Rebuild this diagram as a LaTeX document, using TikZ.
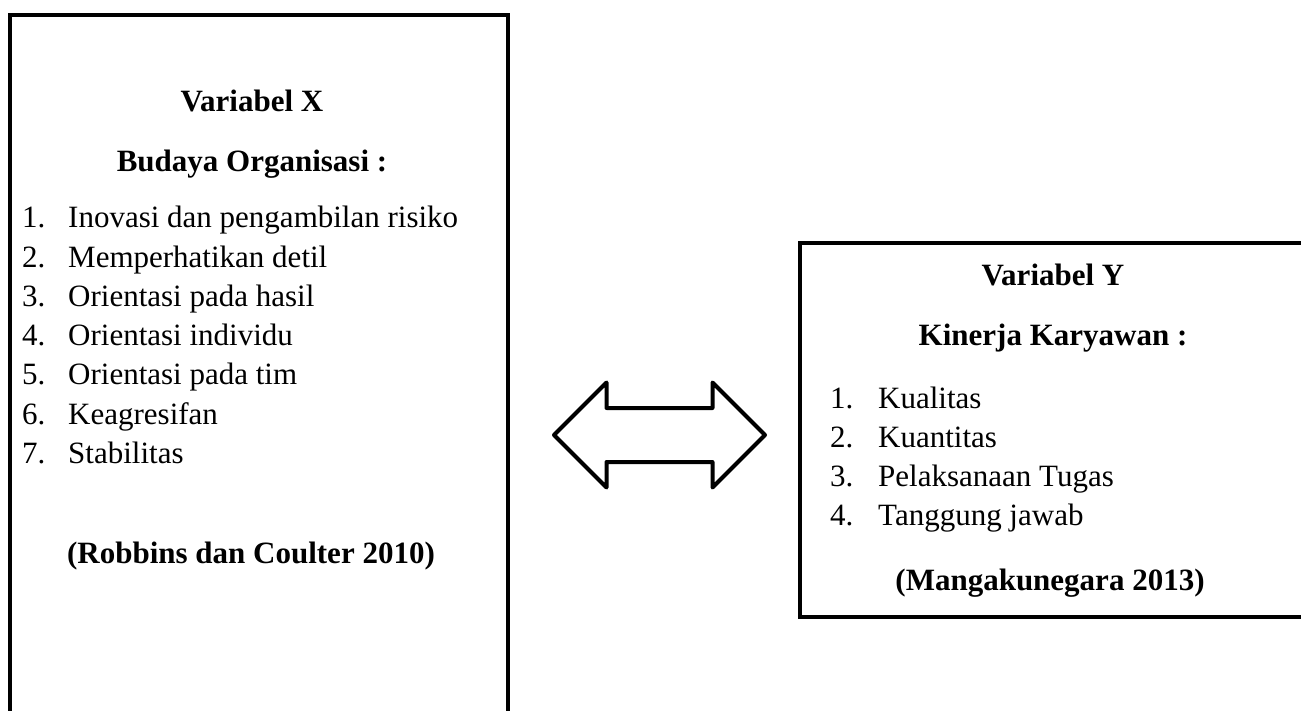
\documentclass[tikz,border=0pt]{standalone}
\usepackage{fontspec}
\setmainfont{Liberation Serif}
\usetikzlibrary{positioning,shapes.arrows}

\begin{document}
\begin{tikzpicture}[x=1pt, y=-1pt, box/.style = {draw, line width=4.5pt, outer sep=0pt, inner sep=0pt, anchor=north west}, head/.style = {font=\fontsize{31}{37}\selectfont\bfseries, inner sep=0pt, anchor=base}, item/.style = {font=\fontsize{31}{37}\selectfont, inner sep=0pt, anchor=base west}, link/.style = {double arrow, draw, line width=4pt, line join=round, inner xsep=0pt, inner ysep=25pt, double arrow head extend=25.5pt, minimum height=211pt}]

\useasboundingbox (0,0) rectangle (1301,711);
\begin{scope}
\clip (0,0) rectangle (1301,711);
\node[box, minimum width=498pt, minimum height=760pt] (bx) at (10,15) {};
\node[box, minimum width=560pt, minimum height=374pt] (by) at (800,243) {};
\end{scope}

% variabel X
\node[head] (hx) at (252,112) {Variabel X};
\node[head] (tx) at (252,172) {Budaya Organisasi :};
\foreach \n/\t [count=\i from 0] in {1/Inovasi dan pengambilan risiko, 2/Memperhatikan detil, 3/Orientasi pada hasil, 4/Orientasi individu, 5/Orientasi pada tim, 6/Keagresifan, 7/Stabilitas}
{
  \node[item] (nx\n) at (22,228+39.2*\i) {\n.};
  \node[item] (ix\n) at (68,228+39.2*\i) {\t};
}
\node[head] (sx) at (251,563) {(Robbins dan Coulter 2010)};

% variabel Y
\node[head] (hy) at (1053,286) {Variabel Y};
\node[head] (ty) at (1053,345) {Kinerja Karyawan :};
\foreach \n/\t [count=\i from 0] in {1/Kualitas, 2/Kuantitas, 3/Pelaksanaan Tugas, 4/Tanggung jawab}
{
  \node[item] (ny\n) at (830,408+39.3*\i) {\n.};
  \node[item] (iy\n) at (878,408+39.3*\i) {\t};
}
\node[head] (sy) at (1050,590) {(Mangakunegara 2013)};

\node[link] (xy) at (659.5,435) {};
\end{tikzpicture}
\end{document}
